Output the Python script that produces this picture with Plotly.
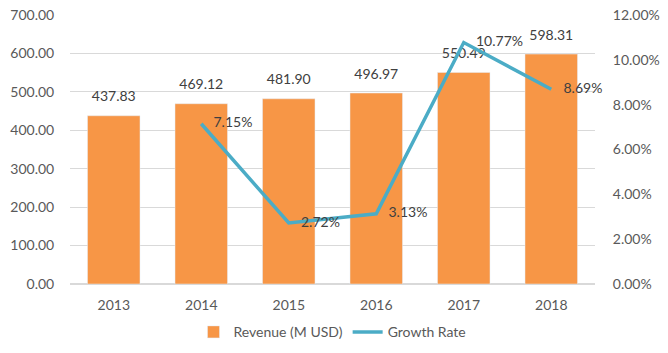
import plotly.graph_objects as go

years = ["2013", "2014", "2015", "2016", "2017", "2018"]
revenue = [437.83, 469.12, 481.90, 496.97, 550.49, 598.31]
growth_years = ["2014", "2015", "2016", "2017", "2018"]
growth = [7.15, 2.72, 3.13, 10.77, 8.69]

FAM = "Lato, Open Sans, sans-serif"
tick_font = dict(family=FAM, size=14, color="#595959")
label_font = dict(family=FAM, size=14, color="#404040")
clear = "rgba(0,0,0,0)"

fig = go.Figure()
fig.add_trace(go.Bar(
    x=years, y=revenue, name="Revenue (M USD)",
    marker=dict(color="#F79646"), width=0.6,
))
fig.add_trace(go.Scatter(
    x=years, y=revenue, mode="markers+text", showlegend=False, hoverinfo="skip",
    marker=dict(size=16, color=clear),
    text=[f"{v:.2f}" for v in revenue], textposition="top center",
    textfont=label_font, cliponaxis=False,
))
fig.add_trace(go.Scatter(
    x=growth_years, y=growth, name="Growth Rate", yaxis="y2",
    mode="lines+markers+text", line=dict(color="#4BACC6", width=3.5),
    marker=dict(size=18, color=clear),
    text=[f"{v:.2f}%" for v in growth], textposition="middle right",
    textfont=label_font, cliponaxis=False,
))

fig.update_layout(
    width=668, height=353,
    margin=dict(l=70, r=73, t=15, b=69, autoexpand=False),
    paper_bgcolor="white", plot_bgcolor="white",
    font=dict(family=FAM, size=14, color="#595959"),
    showlegend=True,
    legend=dict(orientation="h", x=0.5, xanchor="center", y=-0.12, yanchor="top",
                font=tick_font),
    xaxis=dict(type="category", showgrid=False, showline=False, ticks="outside", ticklen=8,
               tickcolor=clear, tickfont=tick_font),
    yaxis=dict(range=[0, 700], dtick=100, tickformat=".2f", gridcolor="#D9D9D9",
               zeroline=True, zerolinecolor="#D9D9D9", ticks="outside", ticklen=12,
               tickcolor=clear, tickfont=tick_font),
    yaxis2=dict(range=[0, 12], dtick=2, overlaying="y", side="right", showgrid=False,
                ticksuffix="%", tickformat=".2f", zeroline=False, ticks="outside", ticklen=14,
                tickcolor=clear, tickfont=tick_font),
    bargap=0.4,
)
fig.write_html("out.html")
